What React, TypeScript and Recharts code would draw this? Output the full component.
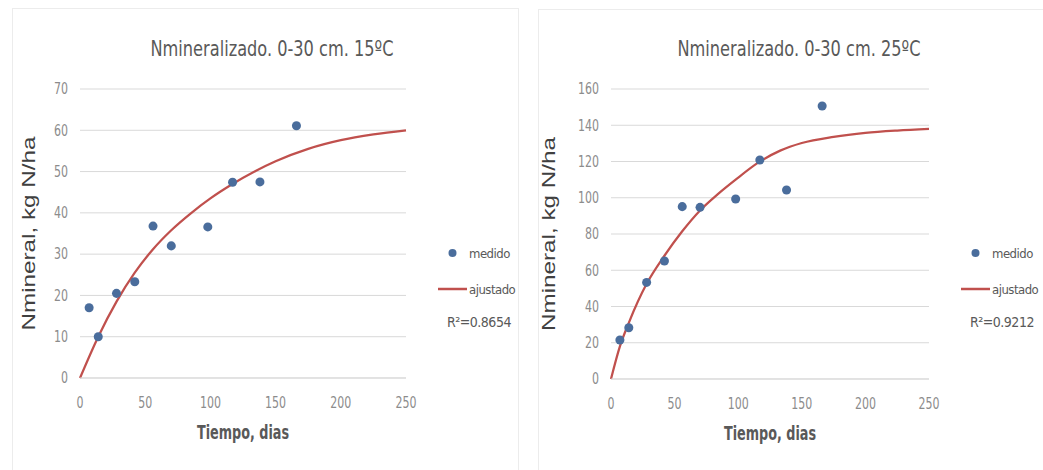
import React from 'react';
import {
  ComposedChart,
  Line,
  Scatter,
  XAxis,
  YAxis,
  CartesianGrid,
  Legend,
  Label,
} from 'recharts';

// days of sampling (same for both temperatures)
const DIAS = [7, 14, 28, 42, 56, 70, 98, 117, 138, 166];
const MEDIDO_15 = [17, 10, 20.5, 23.3, 36.8, 32, 36.6, 47.4, 47.5, 61.1];
const MEDIDO_25 = [21.5, 28.3, 53.3, 65.1, 95.1, 94.7, 99.3, 120.8, 104.3, 150.6];

// fitted curve
const AJUSTE_DIAS_15 = [0, 14, 28, 42, 56, 70, 85, 100, 116, 135, 150, 175, 200, 225, 250];
const AJUSTADO_15 = [0, 10, 18.5, 25.5, 31.2, 35.8, 39.9, 43.5, 46.8, 50.2, 52.5, 55.5, 57.6, 59, 60];
const AJUSTE_DIAS_25 = [0, 7, 14, 28, 42, 56, 70, 84, 98, 116, 133, 150, 175, 200, 225, 250];
const AJUSTADO_25 = [0, 18, 31, 52.5, 68, 81.5, 93, 102, 110, 119.5, 126, 130.2, 133.6, 135.8, 137.1, 138];

const X_TICKS = [0, 50, 100, 150, 200, 250];
const Y_TICKS_15 = [0, 10, 20, 30, 40, 50, 60, 70];
const Y_TICKS_25 = [0, 20, 40, 60, 80, 100, 120, 140, 160];

const TITLES = ['Nmineralizado. 0-30 cm. 15ºC', 'Nmineralizado. 0-30 cm. 25ºC'];
const R2 = ['R²=0.8654', 'R²=0.9212'];

const NARROW = "'DejaVu Sans Condensed', 'Liberation Sans', sans-serif";
const SANS = "'Liberation Sans', Arial, sans-serif";
const DOT = '#4a6d9c';
const RED = '#c0504d';
const GREY = '#595959';
const TICK = '#8c8c8c';

const toPoints = (xs: number[], ys: number[]) => xs.map((x, i) => ({ x, y: ys[i] }));

// narrow tick labels, like the squeezed ones in the picture
const makeTick = (dy: string) => (props: any) => {
  const label = String(props.payload.value);
  return (
    <text
      x={props.x}
      y={props.y}
      dy={dy}
      textAnchor={props.textAnchor}
      fill={TICK}
      fontFamily={NARROW}
      fontSize={15}
      textLength={label.length * 7}
      lengthAdjust="spacingAndGlyphs"
    >
      {label}
    </text>
  );
};

function ChartPanel({
  left, width, plotLeft, plotBottom, title, medido, ajustado, yMax, yTicks, r2,
}: any) {
  const yAxisW = 40;
  const xAxisH = 30;
  const titleX = plotLeft + (width - 114 - plotLeft) / 2 + 29;

  const renderLegend = (props: any) => {
    const items = [...props.payload].sort((a: any) => (a.type === 'circle' ? -1 : 1));
    return (
      <div style={{ fontFamily: NARROW, fontSize: 13, color: GREY }}>
        {items.map((p: any) => (
          <div key={p.value} style={{ display: 'flex', alignItems: 'center', height: 36 }}>
            <svg width={29} height={10}>
              {p.type === 'circle' ? (
                <circle cx={14.5} cy={5} r={4} fill={DOT} />
              ) : (
                <line x1={0} y1={5} x2={29} y2={5} stroke={RED} strokeWidth={2.5} />
              )}
            </svg>
            <span style={{ marginLeft: 2, letterSpacing: -0.5 }}>{p.value}</span>
          </div>
        ))}
        <div style={{ marginTop: 7, paddingLeft: 9, fontSize: 14, letterSpacing: -0.5 }}>{r2}</div>
      </div>
    );
  };

  return (
    <div style={{ position: 'absolute', left, top: 0, width, height: 470 }}>
      <svg style={{ position: 'absolute', left: 0, top: 0 }} width={width} height={70}>
        <text
          x={titleX}
          y={56}
          textAnchor="middle"
          fontFamily={NARROW}
          fontSize={21}
          fill={GREY}
          textLength={243}
          lengthAdjust="spacingAndGlyphs"
        >
          {title}
        </text>
      </svg>
      <ComposedChart
        width={width}
        height={470}
        margin={{ top: 89, right: 114, bottom: 470 - plotBottom - xAxisH, left: plotLeft - yAxisW }}
      >
        <CartesianGrid vertical={false} stroke="#d9d9d9" />
        <XAxis
          type="number"
          dataKey="x"
          domain={[0, 250]}
          ticks={X_TICKS}
          height={xAxisH}
          tickLine={false}
          axisLine={{ stroke: '#d9d9d9' }}
          tickMargin={13}
          tick={makeTick('0.71em')}
        >
          <Label
            content={(p: any) => (
              <text
                x={p.viewBox.x + p.viewBox.width / 2}
                y={p.viewBox.y + 61}
                textAnchor="middle"
                fontFamily={NARROW}
                fontSize={19}
                fontWeight="bold"
                fill={GREY}
                textLength={92}
                lengthAdjust="spacingAndGlyphs"
              >
                Tiempo, dias
              </text>
            )}
          />
        </XAxis>
        <YAxis
          type="number"
          dataKey="y"
          domain={[0, yMax]}
          ticks={yTicks}
          width={yAxisW}
          tickLine={false}
          axisLine={false}
          tickMargin={6}
          tick={makeTick('0.355em')}
        >
          <Label
            content={(p: any) => {
              const cy = p.viewBox.y + p.viewBox.height / 2;
              return (
                <text
                  x={35}
                  y={cy}
                  transform={`rotate(-90 35 ${cy})`}
                  textAnchor="middle"
                  fontFamily={SANS}
                  fontSize={18}
                  fill="#404040"
                  textLength={194}
                  lengthAdjust="spacingAndGlyphs"
                >
                  Nmineral,  kg N/ha
                </text>
              );
            }}
          />
        </YAxis>
        <Legend
          layout="vertical"
          verticalAlign="middle"
          align="center"
          wrapperStyle={{ left: width - 82, top: 235, width: 82 }}
          content={renderLegend}
        />
        <Scatter
          name="medido"
          data={medido}
          fill={DOT}
          legendType="circle"
          isAnimationActive={false}
        />
        <Line
          name="ajustado"
          data={ajustado}
          dataKey="y"
          type="monotone"
          stroke={RED}
          strokeWidth={2.25}
          dot={false}
          activeDot={false}
          legendType="plainline"
          isAnimationActive={false}
        />
      </ComposedChart>
    </div>
  );
}

export default function App() {
  return (
    <div style={{ position: 'absolute', left: 0, top: 0, width: 1043, height: 470, background: '#fff', overflow: 'hidden' }}>
      <div style={{ position: 'absolute', left: 12, top: 8, width: 505, height: 480, border: '1px solid #ececec' }} />
      <div style={{ position: 'absolute', left: 538, top: 9, width: 520, height: 480, border: '1px solid #ececec' }} />
      <ChartPanel
        left={0}
        width={520}
        plotLeft={80}
        plotBottom={378}
        title={TITLES[0]}
        medido={toPoints(DIAS, MEDIDO_15)}
        ajustado={toPoints(AJUSTE_DIAS_15, AJUSTADO_15)}
        yMax={70}
        yTicks={Y_TICKS_15}
        r2={R2[0]}
      />
      <ChartPanel
        left={520}
        width={523}
        plotLeft={91}
        plotBottom={379}
        title={TITLES[1]}
        medido={toPoints(DIAS, MEDIDO_25)}
        ajustado={toPoints(AJUSTE_DIAS_25, AJUSTADO_25)}
        yMax={160}
        yTicks={Y_TICKS_25}
        r2={R2[1]}
      />
    </div>
  );
}
